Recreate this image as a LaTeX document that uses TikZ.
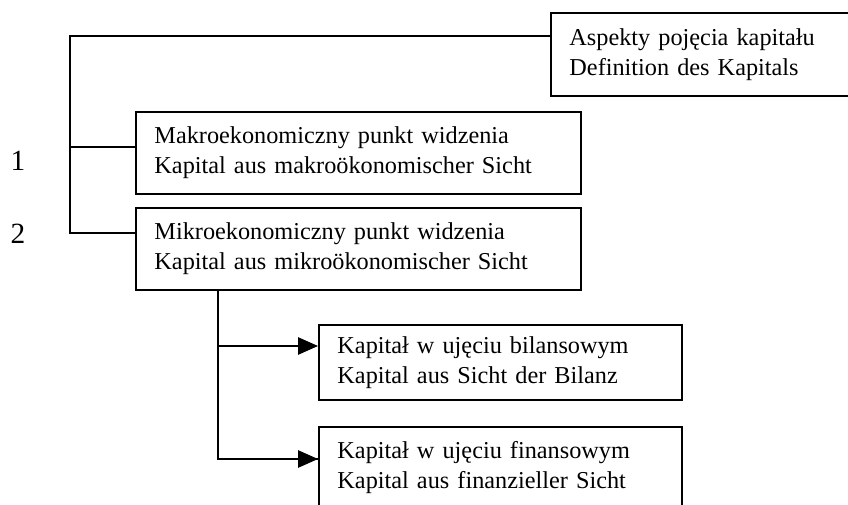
\documentclass[tikz,border=0pt]{standalone}
\usepackage{fontspec}
\setmainfont{Liberation Serif}
\usetikzlibrary{arrows.meta}
\begin{document}
\begin{tikzpicture}%
	[x=0.75pt, y=-0.75pt,
	font=\fontsize{18.2}{22.5}\selectfont,
	line/.style={draw=black, line width=1.2pt},
	arrow/.style={line, -{Triangle[length=15pt,width=13pt]}},
	box/.style={draw=black, line width=1.2pt, anchor=north west, align=left,
		inner xsep=14pt, inner ysep=0pt},
	wide/.style={box, text width=305.75pt, minimum height=61.5pt},
	narrow/.style={box, text width=244.25pt, minimum height=56.25pt},
	label/.style={inner sep=0pt, font=\fontsize{22}{26}\selectfont}]
%
\useasboundingbox (0,0) rectangle (848,504);
\clip (0,0) rectangle (848,504);
%%
%% Boxes
%%
\node[box, text width=197pt, minimum height=62.25pt] (aspekty) at (550,12)
	{Aspekty pojęcia kapitału\\Definition des Kapitals};
\node[wide] (makro) at (135,111)
	{Makroekonomiczny punkt widzenia\\Kapital aus makroökonomischer Sicht};
\node[wide] (mikro) at (135,207)
	{Mikroekonomiczny punkt widzenia\\Kapital aus mikroökonomischer Sicht};
\node[narrow] (bilans) at (318,324)
	{Kapitał w ujęciu bilansowym\\Kapital aus Sicht der Bilanz};
\node[narrow, minimum height=61.5pt] (finans) at (318,426)
	{Kapitał w ujęciu finansowym\\Kapital aus finanzieller Sicht};
%%
%% Numbers
%%
\node[label] (one) at (18,161) {1};
\node[label] (two) at (18,234) {2};
%%
%% Connection points
%%
\coordinate (trunk) at (70,36);
\coordinate (stem) at (218,289);
\coordinate (aspekty-out) at ([yshift=-18pt]aspekty.north west);
\coordinate (makro-in) at ([yshift=-27pt]makro.north west);
\coordinate (mikro-in) at ([yshift=-19.5pt]mikro.north west);
\coordinate (bilans-in) at ([yshift=-16.5pt]bilans.north west);
\coordinate (finans-in) at ([yshift=-24.75pt]finans.north west);
%%
%% Connectors
%%
\draw[line] (aspekty-out) -- (trunk) |- (mikro-in);
\draw[line] (trunk |- makro-in) -- (makro-in);
\draw[line] (stem) |- (finans-in);
\draw[arrow] (stem |- bilans-in) -- (bilans-in);
\draw[arrow] (stem |- finans-in) -- (finans-in);
%%
\end{tikzpicture}
\end{document}
